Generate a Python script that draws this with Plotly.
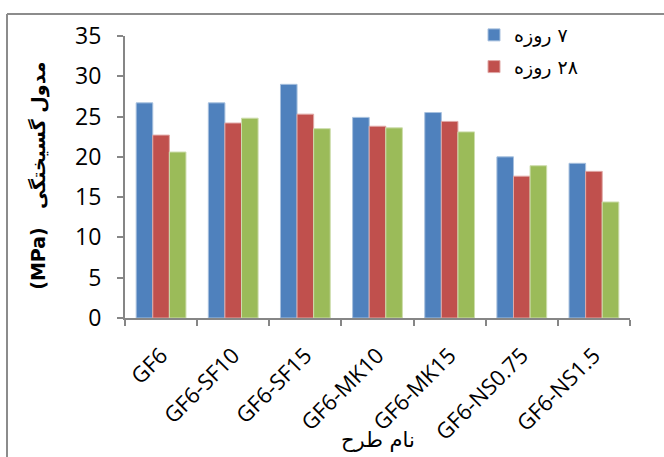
import plotly.graph_objects as go

# Mix designs (x categories)
designs = ["GF6", "GF6-SF10", "GF6-SF15", "GF6-MK10", "GF6-MK15", "GF6-NS0.75", "GF6-NS1.5"]

# Modulus of rupture (MPa) by curing age
mor_7 = [26.7, 26.7, 29.0, 24.9, 25.5, 20.0, 19.2]
mor_28 = [22.7, 24.2, 25.3, 23.8, 24.4, 17.6, 18.2]
mor_90 = [20.6, 24.8, 23.5, 23.6, 23.1, 18.9, 14.4]

series_names = ["روزه \u200e۷", "روزه \u200e۲۸", "روزه \u200e۹۰"]
series_colors = ["#4F81BD", "#C0504D", "#9BBB59"]
series_edges = ["#A7C0DE", "#E0A8A6", "#CDDDAC"]
series_in_legend = [True, True, False]
y_ticks = [0, 5, 10, 15, 20, 25, 30, 35]

W, H = 664, 457
ML, MR, MT, MB = 125, 34, 36, 138.5
PW, PH = W - ML - MR, H - MT - MB


def px(xp):
    return (xp - ML) / PW


def py(yp):
    return (H - MB - yp) / PH


fig = go.Figure()
for vals, name, col, edge, show in zip(
    [mor_7, mor_28, mor_90], series_names, series_colors, series_edges, series_in_legend
):
    fig.add_trace(
        go.Bar(
            x=designs,
            y=vals,
            name=name,
            marker=dict(color=col, line=dict(color=edge, width=1)),
            showlegend=show,
            legendgroup=name,
        )
    )

axis_col = "#868686"
fig.update_layout(
    width=W,
    height=H,
    margin=dict(l=ML, r=MR, t=MT, b=MB, pad=0),
    paper_bgcolor="white",
    plot_bgcolor="white",
    barmode="group",
    bargap=0.31,
    bargroupgap=0,
    font=dict(family="Open Sans, DejaVu Sans, sans-serif", color="black"),
    legend=dict(
        x=px(474),
        y=py(16),
        xanchor="left",
        yanchor="top",
        bgcolor="rgba(0,0,0,0)",
        font=dict(family="DejaVu Sans", size=19, color="black"),
        tracegroupgap=4,
    ),
    xaxis=dict(
        type="category",
        showline=True,
        linecolor=axis_col,
        linewidth=2,
        ticks="outside",
        tickson="boundaries",
        ticklen=6,
        tickwidth=2,
        tickcolor=axis_col,
        tickangle=-45,
        tickfont=dict(size=22, family="Open Sans"),
        ticklabelstandoff=14,
        showgrid=False,
        zeroline=False,
    ),
    yaxis=dict(
        range=[0, 35],
        tickvals=y_ticks,
        showline=True,
        linecolor=axis_col,
        linewidth=2,
        ticks="outside",
        ticklen=6,
        tickwidth=2,
        tickcolor=axis_col,
        tickfont=dict(size=23, family="Open Sans"),
        ticklabelstandoff=11,
        showgrid=False,
        zeroline=False,
    ),
    shapes=[
        dict(type="line", xref="paper", yref="paper", x0=px(7), x1=px(670), y0=py(14), y1=py(14),
             line=dict(color="#8C8C8C", width=2)),
        dict(type="line", xref="paper", yref="paper", x0=px(7), x1=px(7), y0=py(14), y1=py(462),
             line=dict(color="#8C8C8C", width=2)),
    ],
    annotations=[
        dict(
            text="<b>(MPa)</b>   <b>مدول گسیختگی</b>",
            xref="paper", yref="paper", x=px(39), y=py(176),
            xanchor="center", yanchor="middle", textangle=-90, showarrow=False,
            font=dict(size=19, family="DejaVu Sans", color="black"),
        ),
        dict(
            text="نام طرح",
            xref="paper", yref="paper", x=px(378), y=py(441),
            xanchor="center", yanchor="middle", showarrow=False,
            font=dict(size=21, family="DejaVu Sans", color="black"),
        ),
    ],
)

fig.write_html("out.html")
